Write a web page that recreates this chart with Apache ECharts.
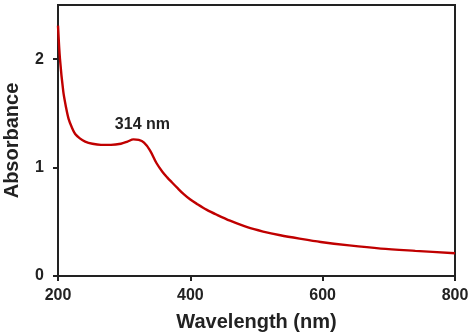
<!DOCTYPE html>
<html>
<head>
<meta charset="utf-8">
<script src="https://cdn.jsdelivr.net/npm/echarts@6/dist/echarts.min.js"></script>
<style>html,body{margin:0;padding:0;background:#fff}#c{width:474px;height:335px}</style>
</head>
<body>
<div id="c"></div>
<script>
const wavelength = [200, 203, 208, 212, 216, 221, 226, 233, 241, 252, 265, 280, 295, 305, 314, 322, 330, 339, 349, 358, 365, 372, 380, 390, 400, 410, 425, 440, 460, 486, 510, 536, 565, 597, 640, 688, 740, 800];
const absorbance = [2.31, 2.0, 1.70, 1.56, 1.45, 1.37, 1.31, 1.27, 1.24, 1.22, 1.21, 1.21, 1.22, 1.24, 1.26, 1.255, 1.23, 1.16, 1.04, 0.96, 0.91, 0.865, 0.815, 0.755, 0.705, 0.665, 0.61, 0.565, 0.51, 0.45, 0.41, 0.376, 0.345, 0.314, 0.282, 0.253, 0.232, 0.21];
const xTicks = [200, 400, 600, 800];
const yTicks = [0, 1, 2];
const peakLabel = '314 nm';
const peakPos = [314, 1.26];

const chart = echarts.init(document.getElementById('c'));
const font = 'Liberation Sans, Arial, sans-serif';
chart.setOption({
  animation: false,
  grid: {left: 58, right: 19, top: 5, bottom: 59, show: true, borderColor: '#222', borderWidth: 2, containLabel: false, outerBoundsMode: 'none'},
  xAxis: {
    type: 'value', min: 200, max: 800, interval: 200,
    name: 'Wavelength (nm)', nameLocation: 'middle', nameGap: 36,
    nameTextStyle: {fontFamily: font, fontWeight: 'bold', fontSize: 20, color: '#222'},
    axisLine: {lineStyle: {color: '#222', width: 2}},
    axisTick: {show: true, length: 5, lineStyle: {color: '#222', width: 2}, customValues: xTicks},
    axisLabel: {fontFamily: font, fontWeight: 'bold', fontSize: 16, color: '#222', margin: 12, customValues: xTicks},
    splitLine: {show: false}
  },
  yAxis: {
    type: 'value', min: 0, max: 2.5,
    name: 'Absorbance', nameLocation: 'middle', nameGap: 36, nameRotate: 90,
    nameTextStyle: {fontFamily: font, fontWeight: 'bold', fontSize: 20, color: '#222'},
    axisLine: {lineStyle: {color: '#222', width: 2}},
    axisTick: {show: true, length: 5, lineStyle: {color: '#222', width: 2}, customValues: yTicks},
    axisLabel: {fontFamily: font, fontWeight: 'bold', fontSize: 16, color: '#222', margin: 14, customValues: yTicks},
    splitLine: {show: false}
  },
  series: [{
    type: 'line',
    data: wavelength.map((w, i) => [w, absorbance[i]]),
    smooth: 0.3,
    showSymbol: false,
    lineStyle: {color: '#c00000', width: 2.4},
    markPoint: {
      symbol: 'rect', symbolSize: 1, itemStyle: {color: 'rgba(0,0,0,0)'},
      label: {show: true, formatter: peakLabel, position: 'top', distance: 6, offset: [9, 0], fontFamily: font, fontWeight: 'bold', fontSize: 16, color: '#222'},
      data: [{coord: peakPos}]
    }
  }]
});
</script>
</body>
</html>
